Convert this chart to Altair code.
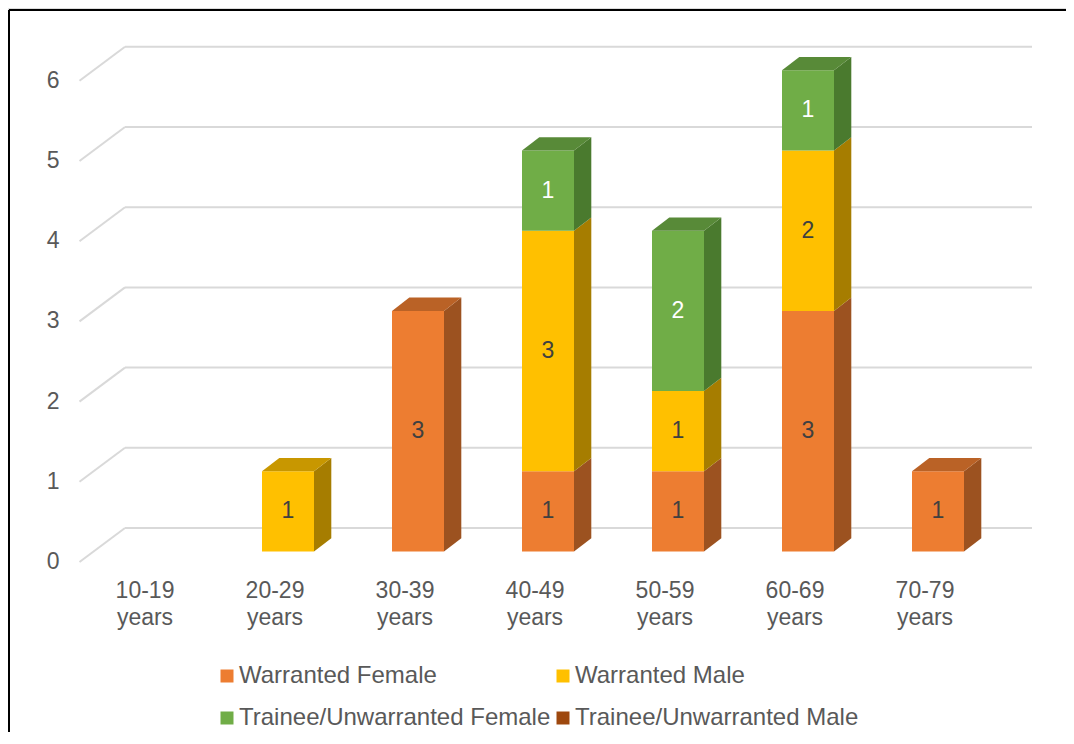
import altair as alt
import pandas as pd

# ---------------- data ----------------
categories = ["10-19 years", "20-29 years", "30-39 years", "40-49 years",
              "50-59 years", "60-69 years", "70-79 years"]
series = ["Warranted Female", "Warranted Male",
          "Trainee/Unwarranted Female", "Trainee/Unwarranted Male"]
warranted_female = [0, 0, 3, 1, 1, 3, 1]
warranted_male = [0, 1, 0, 3, 1, 2, 0]
trainee_female = [0, 0, 0, 1, 2, 1, 0]
trainee_male = [0, 0, 0, 0, 0, 0, 0]
y_ticks = [0, 1, 2, 3, 4, 5, 6]

# ---------------- styles ----------------
front_colors = ["#ED7D31", "#FFC000", "#70AD47", "#9E480E"]
side_colors = ["#9C5220", "#A67D00", "#4A7A2E", "#6A3009"]
top_colors = ["#BA6226", "#C89700", "#588A38", "#7E390B"]
label_colors = ["#404040", "#404040", "#FFFFFF", "#FFFFFF"]
TEXT = "#595959"
FONT = "Liberation Sans"

W, H = 1058, 724
CAT_PX = 130.0      # pixels between categories
UNIT_PX = 80.2      # pixels per unit
X0_PX = 150.0       # pixel of first category centre
Y0_PX = 543.5       # pixel of value 0 (front face)

HALF_W = 26 / CAT_PX          # half width of front face
DEPTH_X = 17.3 / CAT_PX       # 3D depth in x
DEPTH_Y = 13.3 / UNIT_PX      # 3D depth in y
WALL_Y = 23.5 / UNIT_PX       # back wall offset
FLOOR_Y = 10.5 / UNIT_PX      # front floor offset (labels)
GRID_X0 = (117 - X0_PX) / CAT_PX
GRID_X1 = (1024 - X0_PX) / CAT_PX
SLANT_X0 = (71.5 - X0_PX) / CAT_PX
YLAB_X = (51.5 - X0_PX) / CAT_PX

x_scale = alt.Scale(domain=[-X0_PX / CAT_PX, (W - X0_PX) / CAT_PX], nice=False, zero=False)
y_scale = alt.Scale(domain=[(Y0_PX - H) / UNIT_PX, Y0_PX / UNIT_PX], nice=False, zero=False)


def X(f):
    return alt.X(f, type="quantitative", scale=x_scale, axis=None)


def Y(f):
    return alt.Y(f, type="quantitative", scale=y_scale, axis=None, stack=None)


values = [warranted_female, warranted_male, trainee_female, trainee_male]

front, side, top, labels = [], [], [], []
seg = 0
for i, cat in enumerate(categories):
    cum = 0
    last = None
    for k, s in enumerate(series):
        v = values[k][i]
        if v <= 0:
            continue
        y0, y1 = cum, cum + v
        front.append(dict(series=s, x=i - HALF_W, x2=i + HALF_W, y0=y0, y1=y1))
        labels.append(dict(x=i, y=(y0 + y1) / 2, t=str(v), c=label_colors[k]))
        side.append(dict(seg=seg, fill=side_colors[k], x=i + HALF_W, lo=y0, hi=y1))
        side.append(dict(seg=seg, fill=side_colors[k], x=i + HALF_W + DEPTH_X,
                         lo=y0 + DEPTH_Y, hi=y1 + DEPTH_Y))
        seg += 1
        cum = y1
        last = k
    if last is not None:
        xl, xr = i - HALF_W, i + HALF_W
        c = top_colors[last]
        top += [
            dict(seg=seg, fill=c, x=xl, lo=cum, hi=cum),
            dict(seg=seg, fill=c, x=xl + DEPTH_X, lo=cum, hi=cum + DEPTH_Y),
            dict(seg=seg, fill=c, x=xr, lo=cum, hi=cum + DEPTH_Y),
            dict(seg=seg, fill=c, x=xr + DEPTH_X, lo=cum + DEPTH_Y, hi=cum + DEPTH_Y),
        ]
        seg += 1

front_df = pd.DataFrame(front)
side_df = pd.DataFrame(side)
top_df = pd.DataFrame(top)
lab_df = pd.DataFrame(labels)

grid_df = pd.DataFrame(dict(v=y_ticks))
grid_df["gy"] = grid_df["v"] + WALL_Y
grid_df["fy"] = grid_df["v"] - FLOOR_Y
grid_df["gx0"] = GRID_X0
grid_df["gx1"] = GRID_X1
grid_df["sx0"] = SLANT_X0
grid_df["lx"] = YLAB_X
grid_df["t"] = grid_df["v"].astype(str)

cat_df = pd.DataFrame(dict(cat=categories))
cat_df["x"] = [i - 0.1 for i in range(len(categories))]
cat_df["y"] = -46.5 / UNIT_PX

GRID = "#D9D9D9"

grid_h = alt.Chart(grid_df).mark_rule(color=GRID, strokeWidth=2).encode(
    x=X("gx0"), x2="gx1", y=Y("gy"))
grid_s = alt.Chart(grid_df).mark_rule(color=GRID, strokeWidth=2).encode(
    x=X("sx0"), x2="gx0", y=Y("fy"), y2="gy")
ylab = alt.Chart(grid_df).mark_text(align="right", baseline="middle", fontSize=23,
                                     color=TEXT, font=FONT).encode(
    x=X("lx"), y=Y("fy"), text="t:N")

fronts = alt.Chart(front_df).mark_rect().encode(
    x=X("x"), x2="x2", y=Y("y0"), y2="y1",
    color=alt.Color("series:N", scale=alt.Scale(domain=series, range=front_colors),
                    legend=alt.Legend(title=None, orient="none", legendX=207, legendY=656,
                                      direction="horizontal", columns=2,
                                      symbolType="square", symbolSize=169,
                                      symbolStrokeWidth=0, labelOffset=0, columnPadding=-3,
                                      rowPadding=18, labelLimit=0, padding=0,
                                      labelFontSize=24, labelColor=TEXT, labelFont=FONT)))
sides = alt.Chart(side_df).mark_area(opacity=1).encode(
    x=X("x"), y=Y("hi"), y2="lo", detail="seg:N",
    color=alt.Color("fill:N", scale=None))
tops = alt.Chart(top_df).mark_area(opacity=1).encode(
    x=X("x"), y=Y("hi"), y2="lo", detail="seg:N",
    color=alt.Color("fill:N", scale=None))
blabels = alt.Chart(lab_df).mark_text(baseline="middle", fontSize=23, font=FONT).encode(
    x=X("x"), y=Y("y"), text="t:N", color=alt.Color("c:N", scale=None))
xlab = alt.Chart(cat_df).mark_text(baseline="alphabetic", fontSize=23, color=TEXT, font=FONT,
                                   lineBreak=" ", lineHeight=27).encode(
    x=X("x"), y=Y("y"), text="cat:N")

one = pd.DataFrame(dict(a=[0]))
frame_l = alt.Chart(one).mark_rule(color="#000000", strokeWidth=2).encode(
    x=alt.value(1), y=alt.value(2), y2=alt.value(H))
frame_t = alt.Chart(one).mark_rule(color="#000000", strokeWidth=2).encode(
    x=alt.value(1), x2=alt.value(W), y=alt.value(2))

chart = alt.layer(grid_h, grid_s, ylab, fronts, sides, tops, blabels, xlab, frame_l, frame_t
                  ).properties(width=W, height=H, padding=0,
                               autosize=alt.AutoSizeParams(type="none")
                  ).configure_view(stroke=None).configure(font=FONT)

chart.save("out.html", embed_options={"renderer": "svg", "actions": False})
